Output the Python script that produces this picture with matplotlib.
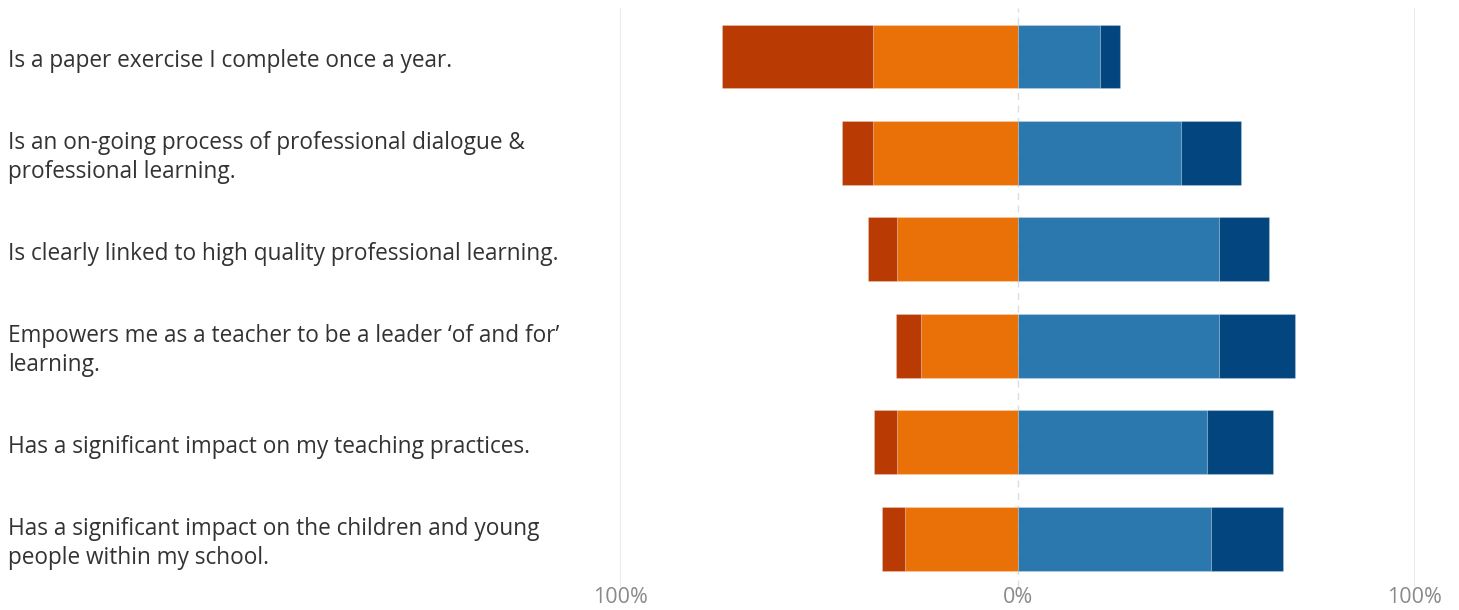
import matplotlib.pyplot as plt
import matplotlib.transforms as mtransforms
import numpy as np

# Statements (rows, top to bottom)
statements = [
    "Is a paper exercise I complete once a year.",
    "Is an on-going process of professional dialogue &\nprofessional learning.",
    "Is clearly linked to high quality professional learning.",
    "Empowers me as a teacher to be a leader \u2018of and for\u2019\nlearning.",
    "Has a significant impact on my teaching practices.",
    "Has a significant impact on the children and young\npeople within my school.",
]

# percentages
strongly_disagree = [38.0, 7.8, 7.3, 6.3, 6.0, 5.8]
disagree = [36.3, 36.3, 30.2, 24.2, 30.2, 28.2]
agree = [20.7, 41.1, 50.6, 50.6, 47.6, 48.6]
strongly_agree = [5.0, 15.1, 12.6, 19.1, 16.6, 18.1]

tick_vals = [-100, 0, 100]
tick_labels = ["100%", "0%", "100%"]

c_sd = "#BA3A03"
c_d = "#EA7107"
c_a = "#2B78AE"
c_sa = "#03467F"

plt.rcParams['font.family'] = ['Open Sans', 'DejaVu Sans']

fig = plt.figure(figsize=(14.59, 6.10), dpi=100)
ax = fig.add_axes([0.425, 0.0377, 0.5448, 0.949])

y = np.arange(len(statements))
sd = np.array(strongly_disagree)
d = np.array(disagree)
a = np.array(agree)
sa = np.array(strongly_agree)

h = 0.66
ec = (1, 1, 1, 0.2)
ax.barh(y, -d, height=h, color=c_d, edgecolor=ec, linewidth=0.8, zorder=3)
ax.barh(y, -sd, left=-d, height=h, color=c_sd, edgecolor=ec, linewidth=0.8, zorder=3)
ax.barh(y, a, height=h, color=c_a, edgecolor=ec, linewidth=0.8, zorder=3)
ax.barh(y, sa, left=a, height=h, color=c_sa, edgecolor=ec, linewidth=0.8, zorder=3)

ax.set_xlim(-100, 100)
ax.set_ylim(5.5, -0.5)

# gridlines
ax.axvline(-100, color='#e6e6e6', linewidth=1.2, zorder=1)
ax.axvline(100, color='#e6e6e6', linewidth=1.2, zorder=1)
ax.axvline(0, color='#dddddd', linewidth=1.0, linestyle=(0, (5, 4)), zorder=1)

for s in ax.spines.values():
    s.set_visible(False)
ax.set_yticks([])
ax.set_xticks(tick_vals)
ax.set_xticklabels(tick_labels, fontsize=15.5, color='#8a8a8a')
ax.tick_params(axis='x', length=0, pad=0)

trans = mtransforms.blended_transform_factory(fig.transFigure, ax.transData)
for i, txt in enumerate(statements):
    ax.text(8 / 1459, i + 0.05, txt, transform=trans, ha='left', va='center',
            fontsize=16.3, color='#333333', linespacing=1.25)

fig.savefig('out.png', dpi=100)
